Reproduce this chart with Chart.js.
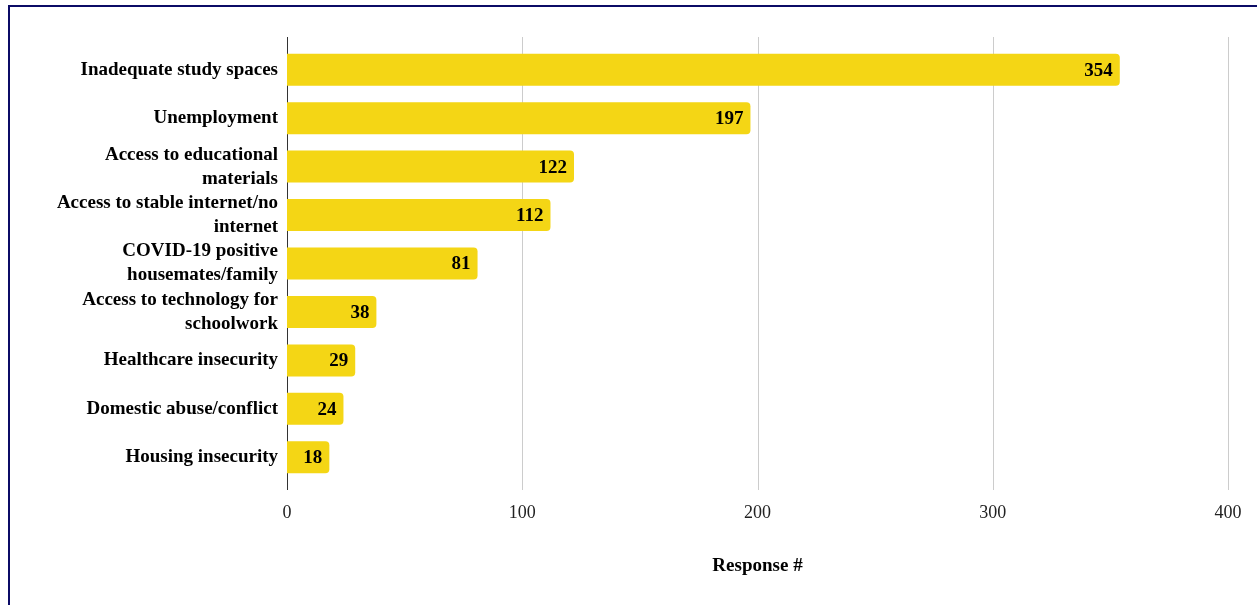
<!DOCTYPE html>
<html><head><meta charset="utf-8">
<script src="https://cdn.jsdelivr.net/npm/chart.js@4.4.0/dist/chart.umd.min.js"></script>
<style>
html,body{margin:0;padding:0;background:#fff;overflow:hidden}
#wrap{position:relative;width:1257px;height:605px;overflow:hidden}
#frame{position:absolute;left:8px;top:5px;width:1400px;height:800px;border-left:2px solid #0b0b66;border-top:2px solid #0b0b66;pointer-events:none}
canvas{position:absolute;left:0;top:0}
</style></head><body>
<div id="wrap"><canvas id="c" width="1257" height="605"></canvas><div id="frame"></div></div>
<script>
const categories = [
  "Inadequate study spaces",
  "Unemployment",
  ["Access to educational", "materials"],
  ["Access to stable internet/no", "internet"],
  ["COVID-19 positive", "housemates/family"],
  ["Access to technology for", "schoolwork"],
  "Healthcare insecurity",
  "Domestic abuse/conflict",
  "Housing insecurity"
];
const responses = [354, 197, 122, 112, 81, 38, 29, 24, 18];
const xTicks = [0, 100, 200, 300, 400];
const axisTitle = "Response #";

const SERIF = '"Liberation Serif", "Times New Roman", Times, serif';
const EXT = 8.5;

const gridPlugin = {
  id: 'gridPlugin',
  beforeDatasetsDraw(chart) {
    const {ctx, chartArea, scales} = chart;
    const top = chartArea.top - EXT, bottom = chartArea.bottom + EXT;
    ctx.save();
    ctx.lineWidth = 1;
    ctx.strokeStyle = '#cccccc';
    xTicks.forEach(v => {
      if (v === 0) return;
      const x = Math.round(scales.x.getPixelForValue(v)) + 0.5;
      ctx.beginPath(); ctx.moveTo(x, top); ctx.lineTo(x, bottom); ctx.stroke();
    });
    ctx.strokeStyle = '#333333';
    const x0 = Math.round(scales.x.getPixelForValue(0)) + 0.5;
    ctx.beginPath(); ctx.moveTo(x0, top); ctx.lineTo(x0, bottom); ctx.stroke();
    ctx.restore();
  }
};

const valuePlugin = {
  id: 'valuePlugin',
  afterDatasetsDraw(chart) {
    const {ctx} = chart;
    const meta = chart.getDatasetMeta(0);
    ctx.save();
    ctx.font = 'bold 19px ' + SERIF;
    ctx.fillStyle = '#000';
    ctx.textAlign = 'right';
    ctx.textBaseline = 'middle';
    meta.data.forEach((bar, i) => {
      ctx.fillText(String(responses[i]), bar.x - 7, bar.y + 1);
    });
    ctx.restore();
  }
};

new Chart(document.getElementById('c'), {
  type: 'bar',
  data: {
    labels: categories,
    datasets: [{
      data: responses,
      backgroundColor: '#F4D615',
      borderWidth: 0,
      borderRadius: 4,
      barPercentage: 0.66,
      categoryPercentage: 1
    }]
  },
  options: {
    indexAxis: 'y',
    responsive: false,
    animation: false,
    events: [],
    layout: { padding: { left: 0, right: 29, top: 45.5, bottom: 0 } },
    plugins: { legend: { display: false }, tooltip: { enabled: false } },
    scales: {
      x: {
        min: 0, max: 400,
        afterBuildTicks(scale) { scale.ticks = xTicks.map(v => ({ value: v })); },
        afterFit(scale) { scale.height = 123.5; },
        grid: { display: false },
        border: { display: false },
        ticks: { color: '#222', font: { family: SERIF, size: 18 }, padding: 13, maxRotation: 0 },
        title: { display: true, text: axisTitle, color: '#000', font: { family: SERIF, size: 19, weight: 'bold' }, padding: { top: 0, bottom: 28 } }
      },
      y: {
        afterFit(scale) { scale.width = 287; },
        grid: { display: false, drawTicks: false },
        border: { display: false },
        ticks: { color: '#000', font: { family: SERIF, size: 19, weight: 'bold', lineHeight: 1.263 }, padding: 9, autoSkip: false }
      }
    }
  },
  plugins: [gridPlugin, valuePlugin]
});
</script>
</body></html>
